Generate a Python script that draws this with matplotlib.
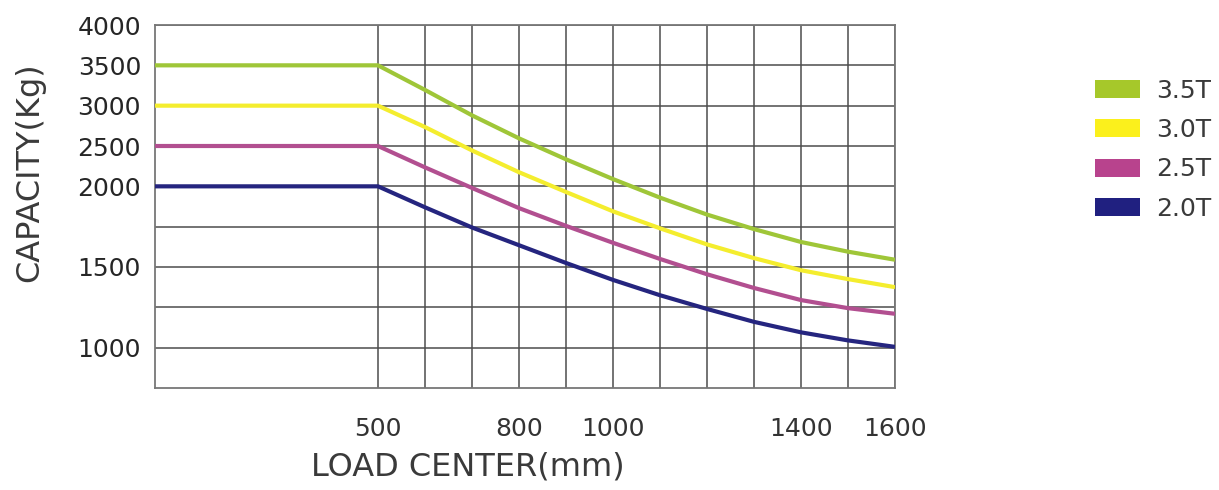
import numpy as np
import matplotlib
matplotlib.use("Agg")
import matplotlib.pyplot as plt
from matplotlib.patches import Patch

plt.rcParams['font.family'] = ['DejaVu Sans']

# load centre (mm) and capacity (kg)
load_center = [0, 500, 600, 700, 800, 900, 1000, 1100, 1200, 1300, 1400, 1500, 1600]
cap_35 = [3500, 3500, 3195, 2880, 2595, 2335, 2090, 1930, 1825, 1735, 1655, 1595, 1545]
cap_30 = [3000, 3000, 2735, 2445, 2175, 1965, 1845, 1740, 1640, 1555, 1480, 1425, 1375]
cap_25 = [2500, 2500, 2235, 1990, 1865, 1755, 1650, 1550, 1455, 1370, 1295, 1245, 1210]
cap_20 = [2000, 2000, 1870, 1745, 1635, 1525, 1420, 1325, 1240, 1160, 1095, 1045, 1005]

labels = ['3.5T', '3.0T', '2.5T', '2.0T']
colors = ['#9fc638', '#f4ed2e', '#b24f90', '#25257f']
legend_colors = ['#a6c82a', '#fbf01c', '#b8438d', '#202080']

y_major = [1000, 1500, 2000, 2500, 3000, 3500, 4000]
y_minor = [1250, 1750]
x_major = [500, 800, 1000, 1400, 1600]
x_minor = [600, 700, 900, 1100, 1200, 1300, 1500]

LEFT = 223 / 47.0  # width of the 0-500 band in grid units


def y_fwd(c):
    c = np.asarray(c, dtype=float)
    return np.where(c <= 2000, (c - 750) / 250.0, 5 + (c - 2000) / 500.0)


def y_inv(p):
    p = np.asarray(p, dtype=float)
    return np.where(p <= 5, 750 + 250.0 * p, 2000 + 500.0 * (p - 5))


def x_fwd(x):
    x = np.asarray(x, dtype=float)
    return np.where(x <= 500, x / 500.0 * LEFT, LEFT + (x - 500) / 100.0)


def x_inv(q):
    q = np.asarray(q, dtype=float)
    return np.where(q <= LEFT, q / LEFT * 500.0, 500 + 100.0 * (q - LEFT))


fig = plt.figure(figsize=(12.19, 4.90), dpi=100)
ax = fig.add_axes([155 / 1219, 1 - 388 / 490, (895 - 155) / 1219, (388 - 25) / 490])
ax.set_xscale('function', functions=(x_fwd, x_inv))
ax.set_yscale('function', functions=(y_fwd, y_inv))

for caps, col in zip([cap_35, cap_30, cap_25, cap_20], colors):
    ax.plot(load_center, caps, color=col, lw=3, solid_capstyle='butt',
            solid_joinstyle='round', zorder=3)

ax.set_xlim(0, 1600)
ax.set_ylim(750, 4000)
ax.set_xticks(x_major)
ax.set_xticks(x_minor, minor=True)
ax.set_yticks(y_major)
ax.set_yticks(y_minor, minor=True)
ax.set_xticklabels([str(v) for v in x_major])
ax.set_yticklabels([str(v) for v in y_major])
ax.grid(True, which='both', color='#4d4d4d', lw=1.1, zorder=1)
ax.tick_params(which='both', length=0)
ax.tick_params(axis='y', labelsize=18, pad=10, labelcolor='#262626')
ax.tick_params(axis='x', labelsize=18, pad=21, labelcolor='#333333')
for s in ax.spines.values():
    s.set_color('#777777')
    s.set_linewidth(1.3)

fig.text(30 / 1219, 1 - 172 / 490, 'CAPACITY(Kg)', rotation=90, fontsize=23,
         color='#3a3a3a', ha='center', va='center')
fig.text(468 / 1219, 1 - 467 / 490, 'LOAD CENTER(mm)', fontsize=23,
         color='#3a3a3a', ha='center', va='center')

handles = [Patch(facecolor=c, edgecolor='none') for c in legend_colors]
fig.legend(handles, labels, loc='upper left', bbox_to_anchor=(1072 / 1219, 1 - 56 / 490),
           frameon=False, fontsize=18, handlelength=1.8, handleheight=0.72,
           labelspacing=0.62, handletextpad=0.65, labelcolor='#3a3a3a')

fig.savefig('out.png', dpi=100)
